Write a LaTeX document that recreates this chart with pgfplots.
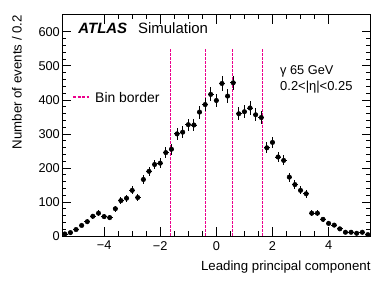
\documentclass[border=0pt]{standalone}
\usepackage{fontspec}
\setmainfont{Liberation Sans}
\usepackage{pgfplots}
\pgfplotsset{compat=1.18}
\usepackage{pgfplotstable}

\pgfplotstableread{
x y ex ey
-5.4 6 0.1 2.45
-5.2 10 0.1 3.16
-5.0 19 0.1 4.36
-4.8 31 0.1 5.57
-4.6 42 0.1 6.48
-4.4 58 0.1 7.62
-4.2 67 0.1 8.19
-4.0 57 0.1 7.55
-3.8 54 0.1 7.35
-3.6 80 0.1 8.94
-3.4 104 0.1 10.20
-3.2 111 0.1 10.54
-3.0 134 0.1 11.58
-2.8 113 0.1 10.63
-2.6 166 0.1 12.88
-2.4 190 0.1 13.78
-2.2 210 0.1 14.49
-2.0 214 0.1 14.63
-1.8 245 0.1 15.65
-1.6 255 0.1 15.97
-1.4 300 0.1 17.32
-1.2 305 0.1 17.46
-1.0 327 0.1 18.08
-0.8 326 0.1 18.06
-0.6 364 0.1 19.08
-0.4 386 0.1 19.65
-0.2 416 0.1 20.40
0.0 398 0.1 19.95
0.2 448 0.1 21.17
0.4 411 0.1 20.27
0.6 450 0.1 21.21
0.8 359 0.1 18.95
1.0 365 0.1 19.10
1.2 376 0.1 19.39
1.4 356 0.1 18.87
1.6 348 0.1 18.65
1.8 259 0.1 16.09
2.0 275 0.1 16.58
2.2 232 0.1 15.23
2.4 222 0.1 14.90
2.6 173 0.1 13.15
2.8 151 0.1 12.29
3.0 134 0.1 11.58
3.2 124 0.1 11.14
3.4 67 0.1 8.19
3.6 67 0.1 8.19
3.8 49 0.1 7.00
4.0 37 0.1 6.08
4.2 32 0.1 5.66
4.4 21 0.1 4.58
4.6 11 0.1 3.32
4.8 11 0.1 3.32
5.0 8 0.1 2.83
5.2 11 0.1 3.32
5.4 4 0.1 2.00
}\datatable

\tikzset{binborder/.style={color=magenta, line width=1.3bp, dash pattern=on 2.5bp off 1.5bp}}

\begin{document}
\begin{tikzpicture}
\path[use as bounding box] (-62bp,-45bp) rectangle (328bp,236bp);
\begin{axis}[
  at={(0,0)}, anchor=south west,
  scale only axis, width=308.7bp, height=221.3bp,
  xmin=-5.5, xmax=5.5, ymin=0, ymax=650,
  xtick={-4,-2,0,2,4}, xticklabels={−4,−2,0,2,4},
  ytick={0,100,200,300,400,500,600},
  yticklabels={0,100,200,300,400,500,600},
  minor x tick num=3, minor y tick num=4,
  major tick length=9bp, minor tick length=4.5bp,
  tick style={black, line width=0.6bp},
  axis line style={line width=0.8bp},
  tick label style={font=\fontsize{12.8}{14}\selectfont},
  xticklabel style={anchor=north, inner sep=0pt, yshift=-5bp},
  yticklabel style={anchor=east, inner sep=0pt, xshift=-2bp},
]
\addplot[binborder, forget plot] coordinates {(-1.633,0) (-1.633,550)};
\addplot[binborder, forget plot] coordinates {(-0.386,0) (-0.386,550)};
\addplot[binborder, forget plot] coordinates {(0.576,0) (0.576,550)};
\addplot[binborder, forget plot] coordinates {(1.645,0) (1.645,550)};
\addplot[only marks, mark=*, mark size=2.3bp, black,
  error bars/.cd, x dir=both, x explicit, y dir=both, y explicit,
  error bar style={line width=0.9bp, black}, error mark=none]
  table[x=x, y=y, x error=ex, y error=ey] {\datatable};
\end{axis}
\node[anchor=base west, inner sep=0, font=\fontsize{15}{17}\selectfont\bfseries\itshape] at (16.3bp,202.7bp) {ATLAS};
\node[anchor=base west, inner sep=0, font=\fontsize{15}{17}\selectfont] at (76bp,202.7bp) {Simulation};
\draw[magenta, line width=2bp, dash pattern=on 3bp off 1.5bp] (11bp,138.5bp) -- (27bp,138.5bp);
\node[anchor=west, inner sep=0, font=\fontsize{14}{16}\selectfont] at (33bp,138.3bp) {Bin border};
\node[anchor=base west, inner sep=0, font=\fontsize{12.8}{14}\selectfont] at (218bp,161bp) {γ 65 GeV};
\node[anchor=base west, inner sep=0, font=\fontsize{13}{14}\selectfont] at (218bp,145.3bp) {0.2<|η|<0.25};
\node[rotate=90, anchor=base east, inner sep=0, font=\fontsize{13.3}{15}\selectfont] at (-40.5bp,221bp) {Number of events / 0.2};
\node[anchor=base east, inner sep=0, font=\fontsize{13.3}{15}\selectfont] at (308.7bp,-34bp) {Leading principal component};
\end{tikzpicture}
\end{document}
